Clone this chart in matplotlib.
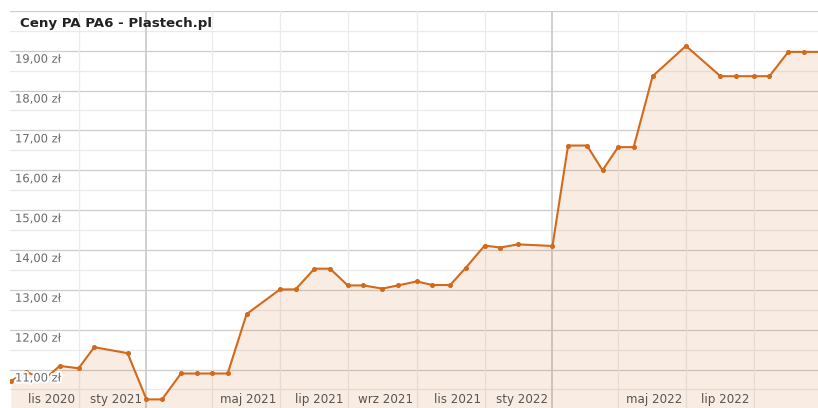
import matplotlib
matplotlib.use("Agg")
import matplotlib.pyplot as plt
import matplotlib.dates as mdates
import matplotlib.patheffects as pe
from matplotlib.transforms import blended_transform_factory
import datetime as dt

# ---- data ----
dates = ["2020-09-01", "2020-09-15", "2020-10-01", "2020-10-15", "2020-11-01",
         "2020-11-15", "2020-12-15", "2021-01-01", "2021-01-15", "2021-02-01",
         "2021-02-15", "2021-03-01", "2021-03-15", "2021-04-01", "2021-05-01",
         "2021-05-15", "2021-06-01", "2021-06-15", "2021-07-01", "2021-07-15",
         "2021-08-01", "2021-08-15", "2021-09-01", "2021-09-15", "2021-10-01",
         "2021-10-15", "2021-11-01", "2021-11-15", "2021-12-01", "2022-01-01",
         "2022-01-15", "2022-02-01", "2022-02-15", "2022-03-01", "2022-03-15",
         "2022-04-01", "2022-05-01", "2022-06-01", "2022-06-15", "2022-07-01",
         "2022-07-15", "2022-08-01", "2022-08-15", "2022-09-01"]
prices = [10.71, 10.94, 10.75, 11.09, 11.03,
          11.56, 11.41, 10.25, 10.25, 10.90,
          10.90, 10.90, 10.90, 12.39, 13.01,
          13.01, 13.53, 13.53, 13.11, 13.11,
          13.03, 13.11, 13.21, 13.12, 13.12,
          13.55, 14.11, 14.06, 14.14, 14.10,
          16.62, 16.62, 16.00, 16.58, 16.58,
          18.36, 19.12, 18.36, 18.36, 18.36,
          18.36, 18.97, 18.97, 18.97]
y_ticks = [11, 12, 13, 14, 15, 16, 17, 18, 19]
x_tick_dates = ["2020-11-01", "2021-01-01", "2021-05-01", "2021-07-01", "2021-09-01",
                "2021-11-01", "2022-01-01", "2022-05-01", "2022-07-01"]
x_tick_labels = ["lis 2020", "sty 2021", "maj 2021", "lip 2021", "wrz 2021",
                 "lis 2021", "sty 2022", "maj 2022", "lip 2022"]
title = "Ceny PA PA6 - Plastech.pl"

# ---- style ----
W, H = 818, 408
LINE = "#d2691b"
plt.rcParams["font.family"] = ["DejaVu Sans"]

fig = plt.figure(figsize=(W / 100, H / 100), dpi=100)
top_px = 10.85
ax = fig.add_axes([10 / W, 0, 808 / W, 1 - top_px / H])

d = [mdates.date2num(dt.date.fromisoformat(s)) for s in dates]
ref = mdates.date2num(dt.date(2021, 1, 1))
ax.set_xlim(ref - 122.7, ref + 603.7)
ax.set_ylim(10.034, 20.0)
for s in ax.spines.values():
    s.set_visible(False)
ax.set_xticks([])
ax.set_yticks([])

# horizontal gridlines
v = 10.5
while v <= 20.001:
    major = abs(v - round(v)) < 1e-6
    ax.axhline(v, color="#cccccc" if major else "#ebebeb", lw=0.9, zorder=1)
    v += 0.5

# vertical gridlines every two months
for yr, mo in [(2020, 11), (2021, 1), (2021, 3), (2021, 5), (2021, 7), (2021, 9),
               (2021, 11), (2022, 1), (2022, 3), (2022, 5), (2022, 7)]:
    xx = mdates.date2num(dt.date(yr, mo, 1))
    ax.axvline(xx, color="#cccccc" if mo == 1 else "#ebebeb",
               lw=1.3 if mo == 1 else 0.9, zorder=1)

# area + line
ax.fill_between(d, prices, 9.0, color=LINE, alpha=0.12, lw=0, zorder=2)
ax.plot(d, prices, color=LINE, lw=1.5, marker="o", ms=2.6, zorder=3,
        solid_joinstyle="round")

# y labels (inside, below gridlines)
ytrans = blended_transform_factory(ax.transAxes, ax.transData)
for t in y_ticks:
    ax.annotate(f"{t},00 zł", xy=(0, t), xycoords=ytrans,
                xytext=(5, -8.5), textcoords="offset pixels",
                ha="left", va="center", fontsize=8.3, color="#6a6a6a", zorder=5,
                path_effects=[pe.withStroke(linewidth=3, foreground="white")])

# x labels
xtrans = blended_transform_factory(ax.transData, fig.transFigure)
for s, lab in zip(x_tick_dates, x_tick_labels):
    xx = mdates.date2num(dt.date.fromisoformat(s))
    ax.annotate(lab, xy=(xx, 1 - 399.5 / H), xycoords=xtrans,
                xytext=(-4, 0), textcoords="offset pixels",
                ha="right", va="center", fontsize=8.6, color="#555555", zorder=5)

fig.text(20 / W, 1 - 24 / H, title, ha="left", va="center",
         fontsize=9.6, fontweight="bold", color="#222222")

fig.savefig("out.png", dpi=100)
